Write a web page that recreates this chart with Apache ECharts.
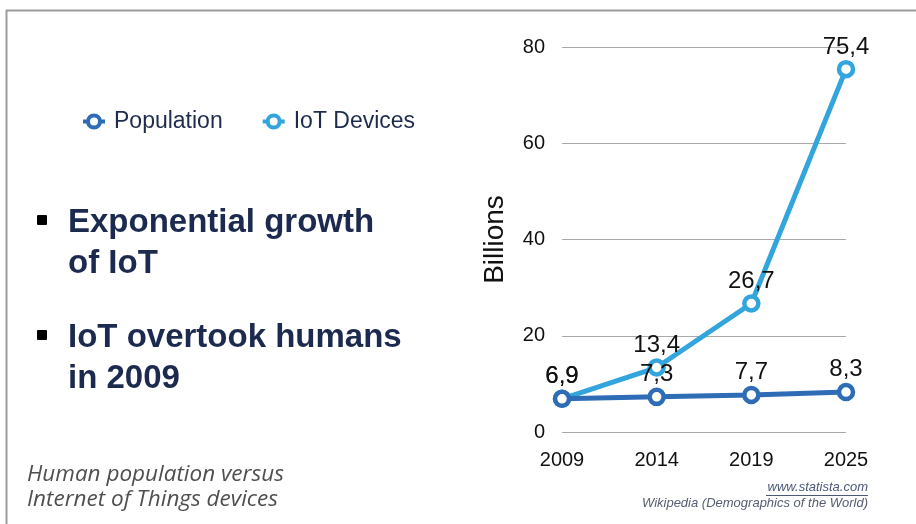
<!DOCTYPE html>
<html>
<head>
<meta charset="utf-8">
<script src="https://cdn.jsdelivr.net/npm/echarts@6/dist/echarts.min.js"></script>
<style>
html,body{margin:0;padding:0;background:#fff;}
#main{width:916px;height:524px;}
</style>
</head>
<body>
<div id="main"></div>
<script>
var years = ['2009', '2014', '2019', '2025'];
var population = [6.9, 7.3, 7.7, 8.3];
var iotDevices = [6.9, 13.4, 26.7, 75.4];
var yTicks = [0, 20, 40, 60, 80];

var chart = echarts.init(document.getElementById('main'));
var fmt = function (p) { return String(p.value).replace('.', ','); };

chart.setOption({
  backgroundColor: '#ffffff',
  animation: false,
  legend: {
    left: 76, top: 105,
    itemWidth: 22, itemHeight: 15, itemGap: 38,
    itemStyle: { borderWidth: 4 },
    lineStyle: { width: 4 },
    textStyle: { fontFamily: 'Liberation Sans', fontSize: 23, color: '#1e2b4d', padding: [0, 0, 0, 4] },
    data: ['Population', 'IoT Devices']
  },
  grid: { left: 562, right: 70, top: 47, bottom: 92, containLabel: false },
  xAxis: {
    type: 'category', boundaryGap: false, data: years,
    axisLine: { show: false }, axisTick: { show: false },
    axisLabel: { fontFamily: 'Liberation Sans', fontSize: 20, color: '#111', margin: 18 }
  },
  yAxis: {
    type: 'value', min: yTicks[0], max: yTicks[yTicks.length - 1], interval: 20,
    name: 'Billions', nameLocation: 'middle', nameRotate: 90, nameGap: 53,
    nameTextStyle: { fontFamily: 'Liberation Sans', fontSize: 28, color: '#111' },
    axisLine: { show: false }, axisTick: { show: false },
    axisLabel: { fontFamily: 'Liberation Sans', fontSize: 20, color: '#111', margin: 17 },
    splitLine: { lineStyle: { color: '#aaaaaa', width: 1 } }
  },
  series: [
    {
      name: 'Population', type: 'line', data: population, z: 3,
      symbol: 'circle', symbolSize: 14, showAllSymbol: true,
      lineStyle: { color: '#2e6cb6', width: 5 },
      itemStyle: { color: '#ffffff', borderColor: '#2e6cb6', borderWidth: 4.5 },
      label: { show: true, position: 'top', distance: 1, formatter: fmt,
        fontFamily: 'Liberation Sans', fontSize: 24, color: '#111' }
    },
    {
      name: 'IoT Devices', type: 'line', data: iotDevices, z: 2,
      symbol: 'circle', symbolSize: 14, showAllSymbol: true,
      lineStyle: { color: '#33a5dd', width: 5 },
      itemStyle: { color: '#ffffff', borderColor: '#33a5dd', borderWidth: 4.5 },
      label: { show: true, position: 'top', distance: 1, formatter: fmt,
        fontFamily: 'Liberation Sans', fontSize: 24, color: '#111' }
    }
  ],
  graphic: [
    { type: 'line', shape: { x1: 6, y1: 10.5, x2: 916, y2: 10.5 }, style: { stroke: '#9b9b9b', lineWidth: 2 }, silent: true },
    { type: 'line', shape: { x1: 6.5, y1: 10, x2: 6.5, y2: 524 }, style: { stroke: '#9b9b9b', lineWidth: 2 }, silent: true },
    { type: 'rect', shape: { x: 37, y: 215, width: 10, height: 10, r: 1 }, style: { fill: '#000' } },
    { type: 'rect', shape: { x: 37, y: 330, width: 10, height: 10, r: 1 }, style: { fill: '#000' } },
    { type: 'text', left: 68, top: 202, style: { text: 'Exponential growth\nof IoT', fill: '#1b2a4e',
      font: 'bold 33px "Liberation Sans"', lineHeight: 41 } },
    { type: 'text', left: 68, top: 317, style: { text: 'IoT overtook humans\nin 2009', fill: '#1b2a4e',
      font: 'bold 33px "Liberation Sans"', lineHeight: 41 } },
    { type: 'text', left: 27, top: 462, style: { text: 'Human population versus\nInternet of Things devices', fill: '#4f4f4f',
      font: 'italic 22.5px "Open Sans"', lineHeight: 25 } },
    { type: 'text', right: 48, top: 481, style: { text: 'www.statista.com', fill: '#4b5878',
      font: 'italic 13px "Liberation Sans"' } },
    { type: 'line', shape: { x1: 766, y1: 495.5, x2: 868, y2: 495.5 }, style: { stroke: '#4b5878', lineWidth: 1 } },
    { type: 'text', right: 48, top: 497, style: { text: 'Wikipedia (Demographics of the World)', fill: '#555d70',
      font: 'italic 13px "Liberation Sans"' } }
  ]
});
</script>
</body>
</html>
